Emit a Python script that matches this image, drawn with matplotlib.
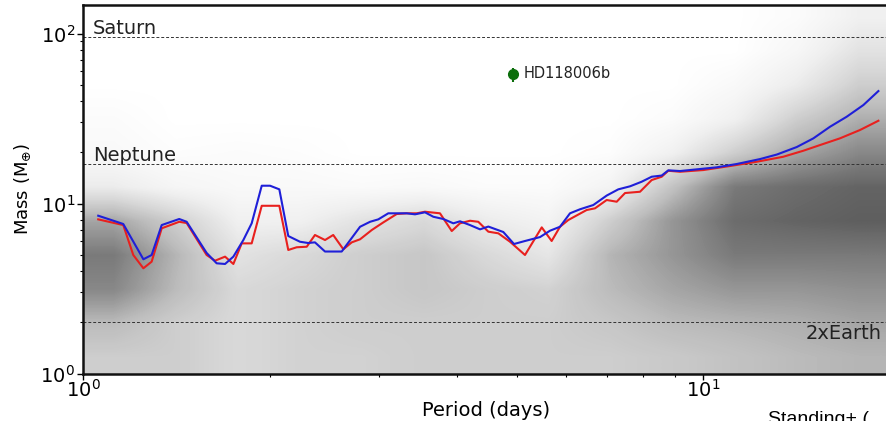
import matplotlib
matplotlib.use("Agg")
import matplotlib.pyplot as plt
import numpy as np

# Binned mass curves (period in days, mass in Earth masses)
blue_period = [1.057, 1.160, 1.250, 1.289, 1.338, 1.428, 1.468, 1.581, 1.641, 1.693,
               1.746, 1.812, 1.869, 1.940, 2.001, 2.071, 2.141, 2.236, 2.304, 2.364,
               2.454, 2.611, 2.795, 2.901, 2.991, 3.104, 3.324, 3.428, 3.557, 3.669,
               3.808, 3.952, 4.051, 4.205, 4.364, 4.501, 4.758, 4.951, 5.157, 5.453,
               5.659, 5.873, 6.095, 6.325, 6.646, 6.985, 7.293, 7.619, 7.955, 8.256,
               8.568, 8.781, 9.171, 9.759, 10.51, 11.32, 12.35, 13.14, 14.15, 15.05,
               16.01, 17.03, 18.12, 19.16]
blue_mass = [8.48, 7.58, 4.70, 4.98, 7.47, 8.11, 7.81, 5.12, 4.45, 4.41,
             4.87, 6.10, 7.65, 12.73, 12.73, 12.12, 6.44, 5.96, 5.86, 5.91,
             5.22, 5.22, 7.30, 7.81, 8.07, 8.76, 8.76, 8.64, 8.88, 8.36,
             8.11, 7.65, 7.86, 7.47, 7.05, 7.32, 6.80, 5.78, 6.02, 6.35,
             6.92, 7.30, 8.76, 9.25, 9.80, 11.14, 12.12, 12.63, 13.44, 14.38,
             14.61, 15.68, 15.53, 15.89, 16.33, 17.08, 18.27, 19.42, 21.50, 24.18,
             28.30, 32.40, 37.97, 45.89]

red_period = [1.057, 1.160, 1.204, 1.250, 1.289, 1.338, 1.428, 1.468, 1.581, 1.631,
              1.693, 1.746, 1.801, 1.869, 1.940, 2.071, 2.141, 2.209, 2.293, 2.364,
              2.454, 2.530, 2.627, 2.710, 2.795, 2.920, 3.048, 3.203, 3.324, 3.450,
              3.557, 3.761, 3.929, 4.051, 4.205, 4.336, 4.501, 4.671, 4.878, 5.157,
              5.488, 5.694, 5.873, 6.057, 6.484, 6.688, 6.985, 7.250, 7.478, 7.905,
              8.256, 8.568, 8.781, 9.171, 10.00, 11.04, 12.20, 13.46, 14.50, 15.43,
              16.61, 17.89, 19.16]
red_mass = [8.07, 7.47, 4.98, 4.16, 4.55, 7.15, 7.81, 7.68, 4.98, 4.61,
            4.87, 4.41, 5.83, 5.83, 9.70, 9.70, 5.33, 5.53, 5.57, 6.53,
            6.10, 6.53, 5.38, 5.91, 6.16, 6.99, 7.75, 8.68, 8.76, 8.76,
            8.95, 8.76, 6.89, 7.65, 7.92, 7.81, 6.83, 6.68, 5.96, 4.98,
            7.24, 6.02, 7.30, 8.00, 9.16, 9.37, 10.49, 10.25, 11.53, 11.73,
            13.75, 14.38, 15.59, 15.38, 15.74, 16.62, 17.62, 18.85, 20.45, 22.09,
            24.18, 27.06, 30.69]

# Planet of interest
planet_name = "HD118006b"
planet_period = 4.94
planet_mass = 58.0
planet_mass_err = [[6.0], [5.0]]

# Reference masses
ref_names = ["Saturn", "Neptune", "2xEarth"]
ref_masses = [95.16, 17.15, 2.0]

# Population density, 0.1 dex in period (1-20 d) x 0.2 dex in mass (1-158 Me)
density = [
    [0.30, 0.30, 0.25, 0.28, 0.28, 0.30, 0.30, 0.30, 0.30, 0.32, 0.35, 0.38, 0.40],
    [0.38, 0.30, 0.25, 0.28, 0.30, 0.30, 0.30, 0.30, 0.33, 0.38, 0.40, 0.42, 0.45],
    [0.55, 0.38, 0.25, 0.28, 0.30, 0.33, 0.30, 0.28, 0.38, 0.45, 0.50, 0.50, 0.52],
    [0.60, 0.40, 0.20, 0.25, 0.30, 0.33, 0.25, 0.18, 0.40, 0.50, 0.60, 0.60, 0.60],
    [0.45, 0.30, 0.12, 0.12, 0.20, 0.25, 0.15, 0.10, 0.30, 0.50, 0.65, 0.68, 0.70],
    [0.15, 0.08, 0.05, 0.05, 0.04, 0.05, 0.03, 0.03, 0.10, 0.35, 0.60, 0.65, 0.68],
    [0.05, 0.02, 0.03, 0.02, 0.00, 0.00, 0.00, 0.00, 0.02, 0.12, 0.30, 0.45, 0.55],
    [0.03, 0.00, 0.00, 0.00, 0.00, 0.00, 0.00, 0.00, 0.00, 0.03, 0.12, 0.30, 0.42],
    [0.00, 0.00, 0.00, 0.00, 0.00, 0.00, 0.00, 0.00, 0.00, 0.00, 0.05, 0.15, 0.30],
    [0.00, 0.00, 0.00, 0.00, 0.00, 0.00, 0.00, 0.00, 0.00, 0.00, 0.00, 0.07, 0.20],
    [0.00, 0.00, 0.00, 0.00, 0.00, 0.00, 0.00, 0.00, 0.00, 0.00, 0.00, 0.03, 0.12],
]
density_logp = (0.0, 1.3)
density_logm = (0.0, 2.2)

xlim = (1.0, 10 ** 1.3)
ylim = (1.0, 10 ** 2.168)

fig = plt.figure(figsize=(8.87, 4.21), dpi=100)
pos = [0.0939, 0.1128, 0.9087, 0.8753]

# density map drawn on a linear log-unit axes underneath
bg = fig.add_axes(pos, zorder=0)
bg.imshow(density, cmap="Greys", vmin=0, vmax=1, origin="lower", aspect="auto",
          interpolation="bilinear",
          extent=(density_logp[0], density_logp[1], density_logm[0], density_logm[1]))
bg.set_xlim(np.log10(xlim))
bg.set_ylim(np.log10(ylim))
bg.axis("off")

ax = fig.add_axes(pos, zorder=1)
ax.set_facecolor("none")
ax.set_xscale("log")
ax.set_yscale("log")
ax.set_xlim(xlim)
ax.set_ylim(ylim)

for name, m in zip(ref_names, ref_masses):
    ax.axhline(m, color="#333333", lw=0.7, ls=(0, (3, 2)), zorder=2)

ytr = ax.get_yaxis_transform()
ax.annotate("Saturn", xy=(0, ref_masses[0]), xycoords=ytr, xytext=(7, 2),
            textcoords="offset points", fontsize=14, color="#222222", va="baseline")
ax.annotate("Neptune", xy=(0, ref_masses[1]), xycoords=ytr, xytext=(7, 2),
            textcoords="offset points", fontsize=14, color="#222222", va="baseline")
ax.annotate("2xEarth", xy=(0.991, ref_masses[2]), xycoords=ytr, xytext=(0, -12),
            textcoords="offset points", fontsize=14, color="#222222",
            ha="right", va="baseline")

ax.plot(red_period, red_mass, color="#e8201e", lw=1.5, zorder=3)
ax.plot(blue_period, blue_mass, color="#1f1fd8", lw=1.5, zorder=4)

ax.errorbar([planet_period], [planet_mass], yerr=planet_mass_err, fmt="o",
            color="#0b6e0b", ms=7, elinewidth=1.5, capsize=0, zorder=5)
ax.annotate(planet_name, xy=(planet_period, planet_mass), xytext=(7, 0),
            textcoords="offset points", fontsize=10.5, color="#222222", va="center")

ax.set_xlabel("Period (days)", fontsize=14, labelpad=0)
ax.set_ylabel(r"Mass (M$_{\oplus}$)", fontsize=13, labelpad=5)
ax.tick_params(which="major", direction="out", length=4, width=1, labelsize=14)
ax.tick_params(axis="x", which="major", pad=0)
ax.tick_params(axis="y", which="major", pad=2)
ax.tick_params(which="minor", direction="out", length=2.5, width=0.8)
for s in ax.spines.values():
    s.set_linewidth(1.8)
    s.set_color("#111111")

fig.text(768 / 887, -3 / 421, "Standing+ (", fontsize=14, family="Liberation Sans",
         va="baseline", ha="left")

plt.savefig("out.png", dpi=100)
plt.close()
